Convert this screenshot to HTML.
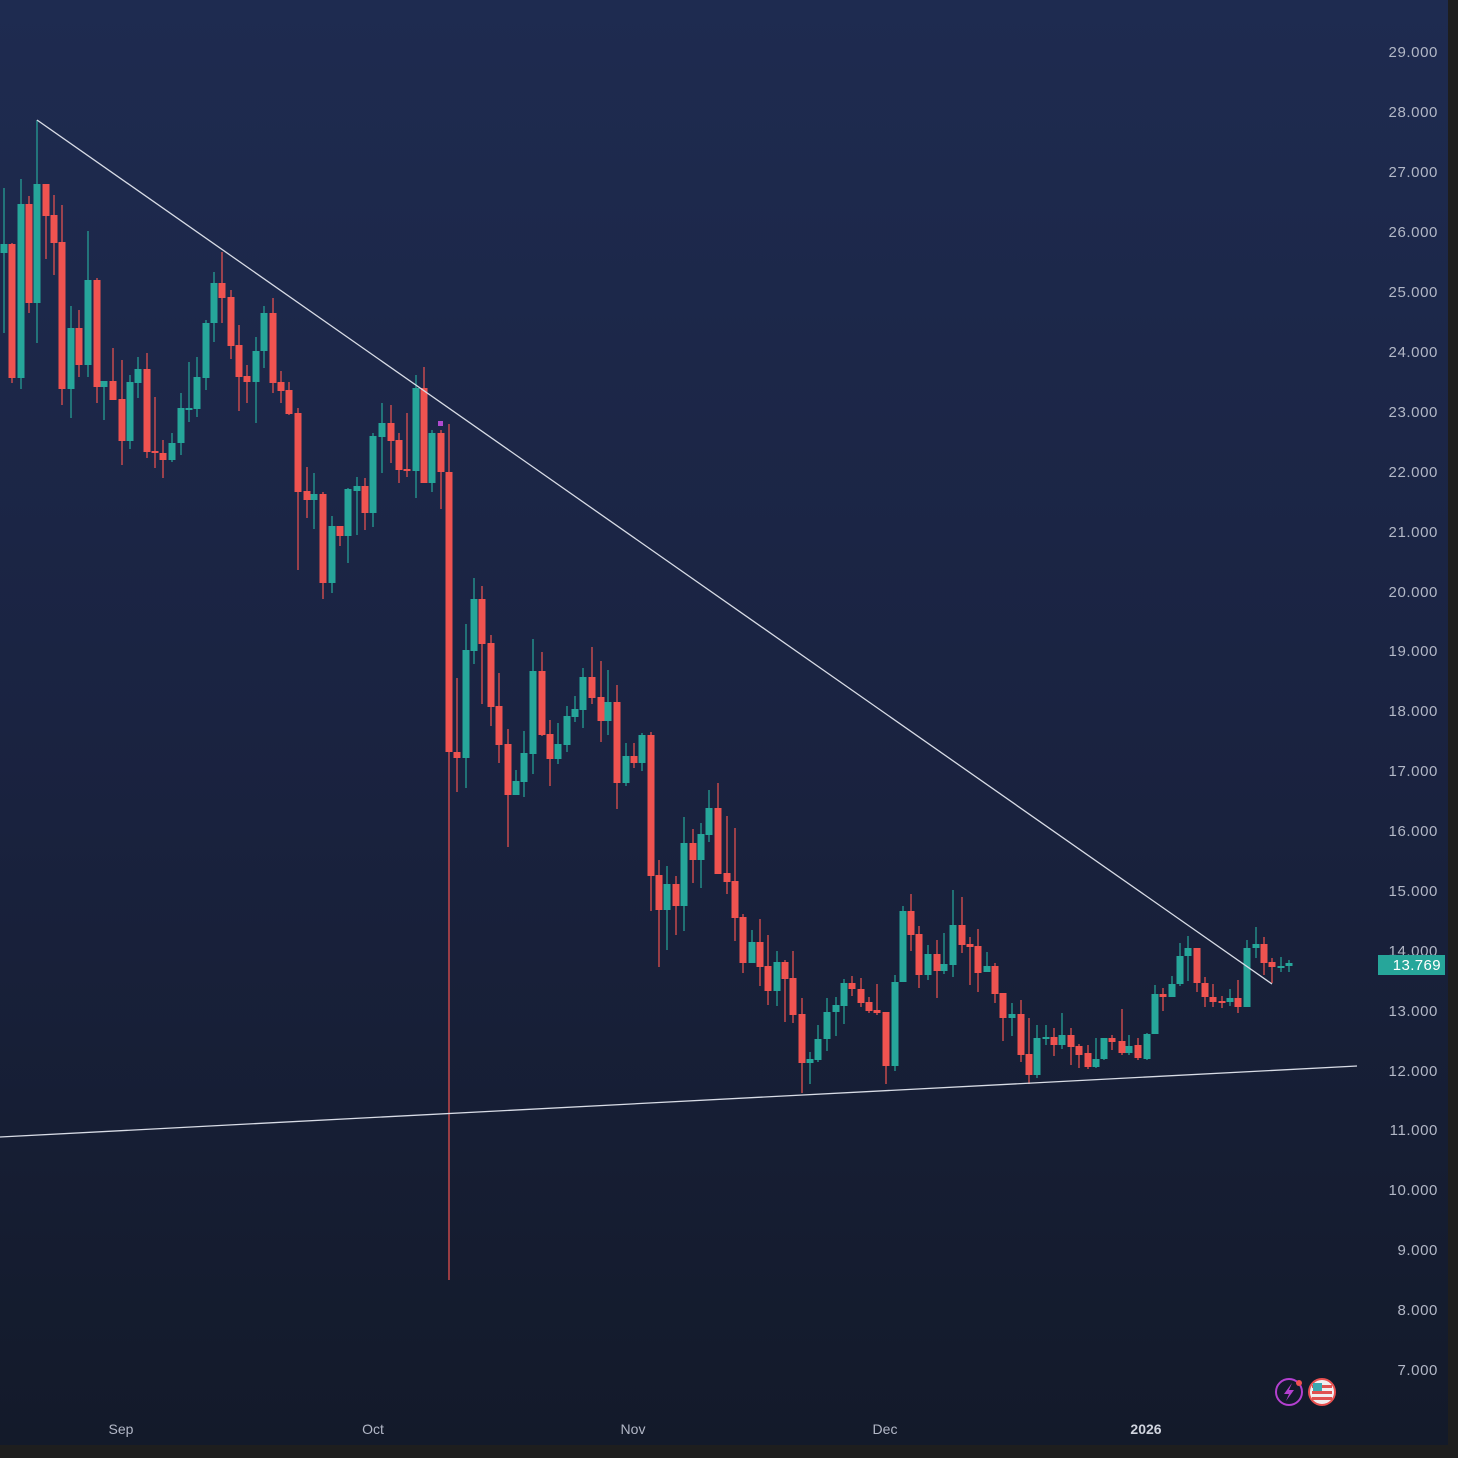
<!DOCTYPE html>
<html><head><meta charset="utf-8"><style>
html,body{margin:0;padding:0;background:#1e1e1e;}
#w{position:relative;width:1458px;height:1458px;overflow:hidden;background:#1e1e1e;}
svg{position:absolute;left:0;top:0;}
text{font-family:"Liberation Sans",sans-serif;}
</style></head><body><div id="w">
<svg id="s" width="1458" height="1458" xmlns="http://www.w3.org/2000/svg">
<defs><linearGradient id="g" x1="0" y1="0" x2="0" y2="1">
<stop offset="0" stop-color="#1e2b50"/><stop offset="0.5" stop-color="#1a2341"/><stop offset="1" stop-color="#131a2a"/></linearGradient></defs>
<rect x="0" y="0" width="1448" height="1445" fill="url(#g)"/>
<g id="c"></g>
<line x1="37" y1="120" x2="1272" y2="984" stroke="#d8dce6" stroke-width="1.3"/>
<line x1="0" y1="1137" x2="1357" y2="1066" stroke="#d8dce6" stroke-width="1.3"/>
<rect x="438" y="421" width="5" height="5" fill="#b04ad0"/>
<g font-size="15" fill="#b2b7c6" text-anchor="end" letter-spacing="0.6" style="font-variant-numeric:tabular-nums">
<text x="1438" y="57">29.000</text><text x="1438" y="117">28.000</text><text x="1438" y="177">27.000</text>
<text x="1438" y="237">26.000</text><text x="1438" y="297">25.000</text><text x="1438" y="357">24.000</text>
<text x="1438" y="417">23.000</text><text x="1438" y="477">22.000</text><text x="1438" y="537">21.000</text>
<text x="1438" y="597">20.000</text><text x="1438" y="656">19.000</text><text x="1438" y="716">18.000</text>
<text x="1438" y="776">17.000</text><text x="1438" y="836">16.000</text><text x="1438" y="896">15.000</text>
<text x="1438" y="956">14.000</text><text x="1438" y="1016">13.000</text><text x="1438" y="1076">12.000</text>
<text x="1438" y="1135">11.000</text><text x="1438" y="1195">10.000</text><text x="1438" y="1255">9.000</text>
<text x="1438" y="1315">8.000</text><text x="1438" y="1375">7.000</text>
</g>
<rect x="1378" y="955" width="67" height="20" fill="#26a69a"/>
<text x="1441" y="970" font-size="15" fill="#ffffff" text-anchor="end" letter-spacing="0.4">13.769</text>
<g font-size="14" fill="#b2b7c6" text-anchor="middle">
<text x="121" y="1434">Sep</text><text x="373" y="1434">Oct</text><text x="633" y="1434">Nov</text>
<text x="885" y="1434">Dec</text><text x="1146" y="1434" font-weight="bold" fill="#d0d4de">2026</text>
</g>
<circle cx="1289" cy="1392" r="13" fill="none" stroke="#b440d0" stroke-width="2"/>
<path d="M1292 1383 L1284 1394 L1289 1394 L1286 1401 L1294 1390 L1289 1390 Z" fill="#b440d0"/>
<circle cx="1299" cy="1383" r="3" fill="#f05050"/>
<circle cx="1322" cy="1392" r="13" fill="#f0eef0" stroke="#e85050" stroke-width="2"/>
<rect x="1312" y="1385" width="20" height="3" fill="#e05050"/><rect x="1312" y="1391" width="20" height="3" fill="#e05050"/><rect x="1312" y="1397" width="20" height="3" fill="#e05050"/>
<rect x="1313" y="1383" width="9" height="8" fill="#3aa8b0"/>
</svg>
<script>
var d=[[4,253,244,188,333],[12,244,378,243,383],[21,378,204,179,389],[29,204,303,196,313],[37,303,184,120,343],[46,184,216,184,259],[54,215,243,195,275],[62,242,389,205,405],[71,389,328,306,418],[79,328,365,310,377],[88,365,280,231,377],[97,280,387,278,403],[104,387,381,381,420],[113,381,400,348,400],[122,399,441,360,465],[130,441,382,375,449],[138,383,369,357,398],[147,369,452,353,458],[155,451,453,397,468],[163,453,460,440,478],[172,460,443,433,462],[181,443,408,393,455],[189,409,408,362,422],[197,409,377,357,417],[206,378,323,320,390],[214,323,283,272,342],[222,283,298,252,323],[231,297,346,290,359],[239,345,377,325,411],[247,376,382,365,403],[256,382,351,337,423],[264,351,313,306,368],[273,313,383,298,393],[281,382,391,371,403],[289,390,414,382,415],[298,413,492,408,570],[307,491,500,467,518],[314,500,494,473,529],[323,494,583,492,599],[332,583,526,516,593],[340,526,536,526,546],[348,536,489,488,563],[357,491,486,477,535],[365,486,513,478,530],[373,513,436,433,527],[382,437,423,403,473],[391,423,441,405,463],[399,440,470,433,483],[407,469,471,413,477],[416,471,388,375,498],[424,388,483,367,483],[432,483,433,430,492],[441,433,472,430,509],[449,472,752,424,1280],[457,752,758,678,792],[466,758,650,624,788],[474,651,599,578,664],[482,599,644,586,704],[491,643,707,635,726],[499,706,745,673,763],[508,744,795,729,847],[516,795,781,770,795],[524,782,753,731,797],[533,754,671,639,774],[542,671,735,652,736],[550,734,759,720,786],[558,759,744,723,764],[567,745,716,706,752],[575,717,709,696,722],[583,710,677,668,728],[592,677,698,647,704],[601,697,721,661,742],[608,721,702,670,735],[617,702,783,685,809],[626,783,756,743,786],[634,756,763,743,768],[642,763,735,733,771],[651,735,876,732,911],[659,875,910,860,967],[667,910,884,866,950],[676,884,906,876,935],[684,906,843,817,931],[693,843,860,829,883],[701,860,834,823,888],[709,835,808,790,842],[718,808,874,783,874],[727,873,882,816,894],[735,881,918,828,941],[743,917,963,914,973],[752,963,942,930,963],[760,942,967,919,986],[768,966,991,935,1005],[777,991,962,951,1006],[785,962,979,960,1022],[793,978,1015,951,1023],[802,1014,1063,998,1093],[810,1063,1059,1052,1084],[818,1060,1039,1025,1062],[827,1039,1012,998,1051],[836,1012,1005,997,1036],[844,1006,983,979,1024],[852,983,989,976,996],[861,989,1003,978,1007],[869,1002,1011,997,1013],[877,1010,1013,984,1015],[886,1012,1066,1012,1084],[895,1066,982,975,1071],[903,982,911,906,982],[911,911,935,894,951],[919,934,975,926,988],[928,975,954,945,980],[937,954,971,940,998],[944,971,964,933,974],[953,965,925,890,977],[962,925,945,897,953],[970,944,947,937,985],[978,946,973,929,992],[987,972,966,952,972],[995,966,994,963,1003],[1003,993,1018,993,1041],[1012,1018,1014,1003,1036],[1021,1014,1055,1000,1062],[1029,1054,1075,1018,1084],[1037,1075,1038,1025,1078],[1046,1038,1037,1025,1045],[1054,1037,1045,1028,1056],[1062,1045,1035,1013,1049],[1071,1035,1047,1028,1065],[1079,1046,1055,1044,1068],[1088,1053,1067,1045,1069],[1096,1067,1059,1038,1068],[1104,1059,1038,1038,1060],[1112,1038,1042,1035,1050],[1122,1041,1053,1009,1055],[1129,1053,1046,1035,1055],[1138,1045,1058,1038,1060],[1147,1059,1034,1033,1060],[1155,1034,994,985,1034],[1163,994,997,988,1011],[1172,997,984,976,997],[1180,984,956,943,986],[1188,956,948,936,981],[1197,948,983,948,992],[1205,983,997,977,1007],[1213,997,1002,984,1007],[1222,1001,1002,996,1008],[1230,1002,998,989,1006],[1238,998,1007,980,1013],[1247,1007,948,940,1007],[1256,948,944,927,958],[1264,944,963,937,975],[1272,962,967,958,983],[1281,967,966,957,972],[1289,966,963,960,972]];
var h='';d.forEach(function(c){var x=c[0],o=c[1],cl=c[2],hi=c[3],lo=c[4];var col=(cl<o)?'#26a69a':'#ef5350';var t=Math.min(o,cl),b=Math.max(o,cl);if(b-t<2)b=t+2;
h+='<line x1="'+x+'" y1="'+hi+'" x2="'+x+'" y2="'+lo+'" stroke="'+col+'" stroke-width="1.2"/>';
h+='<rect x="'+(x-3.5)+'" y="'+t+'" width="7" height="'+(b-t)+'" fill="'+col+'"/>';});
document.getElementById('c').innerHTML=h;
</script>
</div></body></html>
